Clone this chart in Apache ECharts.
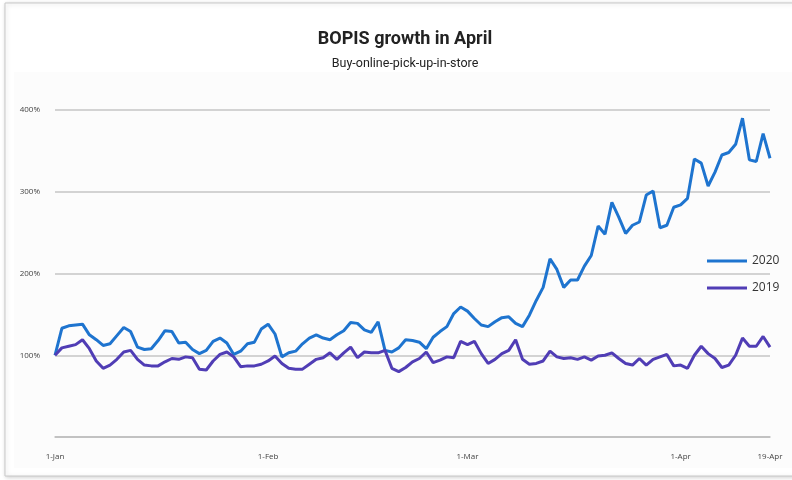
<!DOCTYPE html>
<html>
<head>
<meta charset="utf-8">
<title>BOPIS growth in April</title>
<script src="https://cdn.jsdelivr.net/npm/echarts@6/dist/echarts.min.js"></script>
<style>
  html, body { margin: 0; padding: 0; background: #ffffff; }
  #chart { width: 792px; height: 480px; }
</style>
</head>
<body>
<div id="chart"></div>
<script>
// Daily BOPIS orders, indexed to 1-Jan = 100%
const series2020 = [
  100, 133, 136, 137, 138, 125, 119, 112, 114, 124, 134, 129, 110, 107, 108, 118, 130, 129, 115, 116, 107,
  102, 106, 117, 121, 115, 101, 105, 114, 116, 132, 138, 126, 98, 103, 105, 114, 121, 125, 121, 119, 125,
  130, 140, 139, 131, 128, 141, 106, 104, 109, 119, 118, 116, 108, 122, 129, 135, 151, 159, 154, 145,
  137, 135, 141, 146, 147, 139, 135, 149, 167, 183, 218, 205, 183, 192, 192, 209, 222, 258, 248, 287, 269,
  249, 259, 263, 296, 301, 256, 259, 281, 284, 292, 340, 335, 307, 324, 345, 348, 358, 390, 339, 337, 371, 341
];
const series2019 = [
  100, 109, 111, 113, 119, 108, 93, 84, 88, 95, 104, 106, 95, 88, 87, 87, 92, 96, 95, 98, 97,
  83, 82, 93, 101, 104, 98, 86, 87, 87, 89, 93, 99, 90, 84, 83, 83, 89, 95, 97, 103, 95,
  103, 110, 97, 104, 103, 103, 106, 84, 80, 85, 92, 96, 104, 91, 94, 98, 97, 117, 113, 117,
  102, 90, 95, 102, 106, 119, 95, 89, 90, 93, 105, 98, 96, 97, 95, 98, 94, 99, 100, 103, 96,
  90, 88, 96, 88, 95, 98, 101, 87, 88, 84, 100, 111, 102, 96, 85, 88, 100, 121, 111, 111, 123, 110
];

// One category per data point; only a few carry a date label
const categories = series2020.map((_, i) => String(i));
const tickIndex = [0, 31, 60, 91, 104];
const tickText = ['1-Jan', '1-Feb', '1-Mar', '1-Apr', '19-Apr'];

const yTicks = [0, 100, 200, 300, 400];

const chart = echarts.init(document.getElementById('chart'), null, { renderer: 'canvas' });

chart.setOption({
  animation: false,
  backgroundColor: '#ffffff',
  graphic: [
    {
      type: 'rect',
      z: -10,
      shape: { x: 5, y: 3, width: 800, height: 473 },
      style: { fill: '#ffffff', stroke: '#c9c9c9', lineWidth: 1, shadowBlur: 4, shadowColor: 'rgba(0,0,0,0.18)', shadowOffsetX: 1, shadowOffsetY: 1 }
    },
    {
      type: 'rect',
      z: -9,
      shape: { x: 14, y: 72, width: 778, height: 396 },
      style: { fill: '#fcfcfc' }
    }
  ],
  title: {
    text: 'BOPIS growth in April',
    subtext: 'Buy-online-pick-up-in-store',
    left: 400,
    textAlign: 'center',
    top: 24,
    itemGap: 7,
    textStyle: { fontFamily: 'Roboto', fontSize: 18, fontWeight: 'bold', color: '#222222', lineHeight: 20 },
    subtextStyle: { fontFamily: 'Roboto', fontSize: 12.5, color: '#222222', lineHeight: 16 }
  },
  legend: {
    orient: 'vertical',
    left: 702,
    top: 249,
    itemWidth: 40,
    itemHeight: 3,
    itemGap: 13,
    icon: 'rect',
    data: ['2020', '2019'],
    textStyle: { fontFamily: 'Open Sans', fontSize: 12, color: '#333333', lineHeight: 14 }
  },
  grid: { left: 55, right: 22, top: 110, bottom: 43, containLabel: false },
  xAxis: {
    type: 'category',
    data: categories,
    boundaryGap: false,
    axisLine: { show: true, lineStyle: { color: '#bdbdbd', width: 1.5 } },
    axisTick: { show: false },
    splitLine: { show: false },
    axisLabel: {
      interval: (index) => tickIndex.includes(index),
      formatter: (value, index) => {
        const k = tickIndex.indexOf(index);
        return k >= 0 ? tickText[k] : '';
      },
      margin: 16,
      fontFamily: 'Open Sans',
      fontSize: 8,
      color: '#444444'
    }
  },
  yAxis: {
    type: 'value',
    min: yTicks[0],
    max: yTicks[yTicks.length - 1],
    interval: 100,
    axisLine: { show: false },
    axisTick: { show: false },
    axisLabel: {
      formatter: (v) => (v === 0 ? '' : v + '%'),
      margin: 15,
      fontFamily: 'Open Sans',
      fontSize: 8,
      color: '#444444'
    },
    splitLine: { show: true, lineStyle: { color: '#c6c6c6', width: 1.5 } }
  },
  series: [
    {
      name: '2020',
      type: 'line',
      data: series2020,
      symbol: 'none',
      smooth: false,
      color: '#1e74cf',
      lineStyle: { width: 3, color: '#1e74cf' }
    },
    {
      name: '2019',
      type: 'line',
      data: series2019,
      symbol: 'none',
      smooth: false,
      color: '#503db5',
      lineStyle: { width: 3, color: '#503db5' }
    }
  ]
});
</script>
</body>
</html>
